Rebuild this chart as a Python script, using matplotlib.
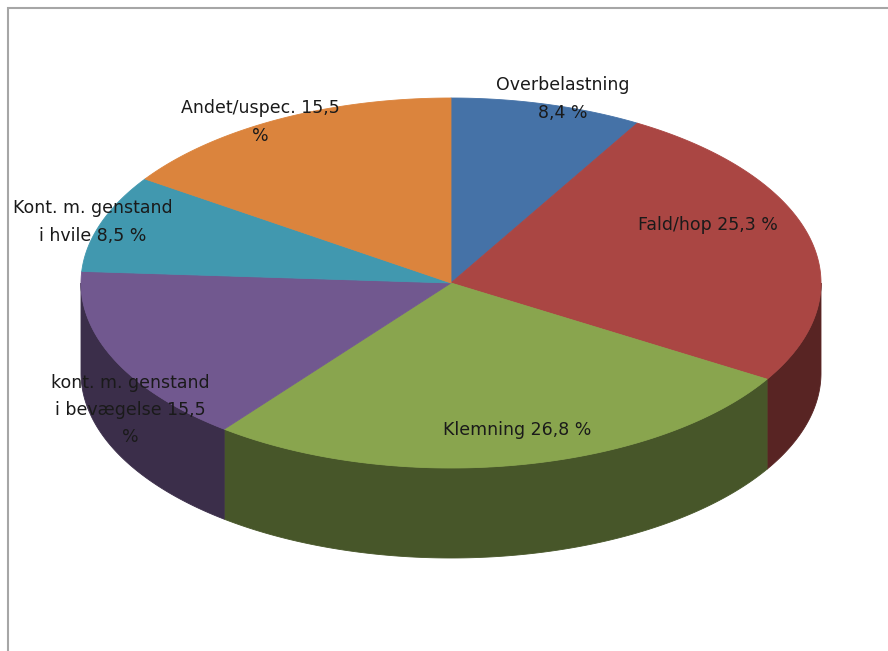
import numpy as np
import matplotlib.pyplot as plt
from matplotlib.patches import Polygon

# slice data, clockwise from the top
labels = ["Overbelastning\n8,4 %", "Fald/hop 25,3 %", "Klemning 26,8 %",
          "kont. m. genstand\ni bevægelse 15,5\n%", "Kont. m. genstand\ni hvile 8,5 %",
          "Andet/uspec. 15,5\n%"]
values = [8.4, 25.3, 26.8, 15.5, 8.5, 15.5]
colors = ["#4572A7", "#AA4643", "#89A54E", "#71588F", "#4198AF", "#DB843D"]

# label centres in pixel coords
label_pos = [(563, 99), (708, 225), (517, 430), (130, 410), (93, 222), (260, 122)]

cx, cy = 451, 283      # centre of the top face
a, b = 370, 185        # ellipse radii
depth = 90             # thickness of the pie


def darker(c, f=0.52):
    c = c.lstrip("#")
    rgb = [int(c[i:i + 2], 16) / 255 for i in (0, 2, 4)]
    return tuple(v * f for v in rgb)


def arc(t0, t1, n=200):
    t = np.radians(np.linspace(t0, t1, n))
    return np.column_stack([cx + a * np.cos(t), cy - b * np.sin(t)])


fig = plt.figure(figsize=(8.88, 6.51), dpi=100)
ax = fig.add_axes([0, 0, 1, 1])
ax.set_xlim(0, 888)
ax.set_ylim(651, 0)
ax.axis("off")

frac = np.array(values) / sum(values)
ends = 90 - 360 * np.cumsum(frac)
starts = np.concatenate([[90], ends[:-1]])

# sides (only the front half is visible)
for s, e, col in zip(starts, ends, colors):
    lo, hi = max(e, -180), min(s, 0)
    if lo >= hi:
        continue
    top = arc(hi, lo)
    bot = top[::-1] + [0, depth]
    ax.add_patch(Polygon(np.vstack([top, bot]), closed=True,
                         facecolor=darker(col), edgecolor=darker(col), lw=0.6))

# top faces
for s, e, col in zip(starts, ends, colors):
    pts = np.vstack([[cx, cy], arc(s, e)])
    ax.add_patch(Polygon(pts, closed=True, facecolor=col, edgecolor=col, lw=0.6))

for lab, (x, y) in zip(labels, label_pos):
    ax.text(x, y, lab, ha="center", va="center", fontsize=12.5, color="#1a1a1a",
            linespacing=1.65, family="DejaVu Sans")

# chart frame (left and top edges)
ax.plot([8, 8, 888], [651, 8, 8], color="#a6a6a6", lw=1.5, solid_joinstyle="miter")

fig.savefig("out.png", dpi=100)
